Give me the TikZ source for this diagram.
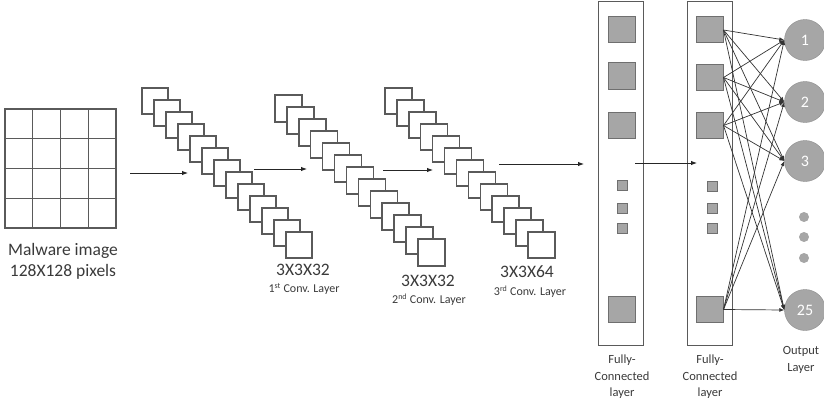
\documentclass[tikz,border=0pt]{standalone}
\usepackage{fontspec}
\setmainfont{Carlito}
\usetikzlibrary{arrows.meta}

\definecolor{linegray}{HTML}{5A5A5A}
\definecolor{cellgray}{HTML}{A6A6A6}
\definecolor{celledge}{HTML}{6F6F6F}
\definecolor{txtgray}{HTML}{3A3A3A}

\tikzset{
  fmap/.style={draw=linegray, line width=1.4pt, fill=white},
  fcbox/.style={draw=linegray, line width=1pt, minimum width=45pt, minimum height=343pt, inner sep=0pt},
  bigcell/.style={draw=celledge, fill=cellgray, line width=1pt, minimum width=27pt, minimum height=26pt, inner sep=0pt},
  smallcell/.style={draw=celledge, fill=cellgray, line width=0.9pt, minimum size=10pt, inner sep=0pt},
  outnode/.style={circle, fill=cellgray, draw=cellgray!85!black, line width=0.4pt, minimum size=41pt, inner sep=0pt, text=white, font=\fontsize{16}{18}\selectfont},
  dotnode/.style={circle, fill=cellgray, minimum size=10pt, inner sep=0pt},
  flow/.style={draw=black!85, line width=0.9pt, -{Latex[length=6pt,width=4.5pt]}},
  link/.style={draw=black!80, line width=0.7pt, -{Latex[length=5pt,width=4pt]}},
  bigtxt/.style={text=txtgray, font=\fontsize{17.5}{20}\selectfont},
  smalltxt/.style={text=txtgray, font=\fontsize{12}{14}\selectfont},
  fctxt/.style={text=txtgray, font=\fontsize{12.5}{16.5}\selectfont, align=center}
}

\begin{document}
\begin{tikzpicture}[x=1pt,y=-1pt]
  \useasboundingbox (0,0) rectangle (824,404);

  % input image
  \draw[linegray, line width=1.4pt] (5,109) rectangle (116,228);
  \draw[linegray, line width=1.4pt] (32.75,109) -- (32.75,228);
  \draw[linegray, line width=1.4pt] (60.5,109) -- (60.5,228);
  \draw[linegray, line width=1.4pt] (88.25,109) -- (88.25,228);
  \draw[linegray, line width=1.4pt] (5,138.75) -- (116,138.75);
  \draw[linegray, line width=1.4pt] (5,168.5) -- (116,168.5);
  \draw[linegray, line width=1.4pt] (5,198.25) -- (116,198.25);
  \node[bigtxt] (img1) at (63,251) {Malware image};
  \node[bigtxt] (img2) at (63,272) {128X128 pixels};

  % conv stacks
  \foreach \i in {0,...,12}
    \draw[fmap] ({142+12*\i},{88+12*\i}) rectangle +(26,26);
  \foreach \i in {0,...,12}
    \draw[fmap] ({275+11.9*\i},{95+12*\i}) rectangle +(27,27);
  \foreach \i in {0,...,12}
    \draw[fmap] ({385+11.9*\i},{88+12*\i}) rectangle +(27,26);

  \node[bigtxt] (k1) at (303,270) {3X3X32};
  \node[smalltxt] (c1) at (304,289) {1\textsuperscript{st} Conv. Layer};
  \node[bigtxt] (k2) at (428,281) {3X3X32};
  \node[smalltxt] (c2) at (429,300) {2\textsuperscript{nd} Conv. Layer};
  \node[bigtxt] (k3) at (527,272) {3X3X64};
  \node[smalltxt] (c3) at (530,292) {3\textsuperscript{rd} Conv. Layer};

  % arrows between stages
  \coordinate (a1s) at (130,173);
  \coordinate (a1e) at (188,173);
  \coordinate (a2s) at (254,169);
  \coordinate (a2e) at (307,169);
  \coordinate (a3s) at (383,170);
  \coordinate (a3e) at (433,170);
  \coordinate (a4s) at (499,164);
  \coordinate (a4e) at (584,164);
  \coordinate (a5s) at (635,163);
  \coordinate (a5e) at (697,163);
  \draw[flow] (a1s) -- (a1e);
  \draw[flow] (a2s) -- (a2e);
  \draw[flow] (a3s) -- (a3e);
  \draw[flow] (a4s) -- (a4e);

  % fully connected layers
  \node[fcbox] (fc1) at (620.5,173.5) {};
  \node[fcbox] (fc2) at (709.5,173.5) {};

  \node[bigcell] (g1) at (621.5,30) {};
  \node[bigcell] (g2) at (621.5,76) {};
  \node[bigcell] (g3) at (621.5,125) {};
  \node[bigcell] (g4) at (621.5,309) {};
  \node[smallcell] (s1) at (622,185) {};
  \node[smallcell] (s2) at (622,208) {};
  \node[smallcell] (s3) at (622,228) {};

  \node[bigcell] (h1) at (709.5,30) {};
  \node[bigcell] (h2) at (709.5,77.5) {};
  \node[bigcell] (h3) at (709.5,125.5) {};
  \node[bigcell] (h4) at (709.5,309.5) {};
  \node[smallcell] (t1) at (712,186) {};
  \node[smallcell] (t2) at (712,208) {};
  \node[smallcell] (t3) at (712,228) {};

  \draw[flow] (a5s) -- (a5e);

  \node[fctxt] (fl1) at (622,377) {Fully-\\Connected\\layer};
  \node[fctxt] (fl2) at (710,377) {Fully-\\Connected\\layer};

  % output layer
  \node[outnode] (o1) at (805,40) {1};
  \node[outnode] (o2) at (805,102) {2};
  \node[outnode] (o3) at (805,161) {3};
  \node[outnode] (o25) at (805,310) {25};
  \node[dotnode] (d1) at (804,217) {};
  \node[dotnode] (d2) at (804,237) {};
  \node[dotnode] (d3) at (804,258) {};
  \node[fctxt] (ol) at (801,360) {Output\\Layer};

  \foreach \s in {h1,h2,h3,h4}
    \foreach \o in {o1,o2,o3,o25}
      \draw[link] (\s.east) -- (\o.west);
\end{tikzpicture}
\end{document}
